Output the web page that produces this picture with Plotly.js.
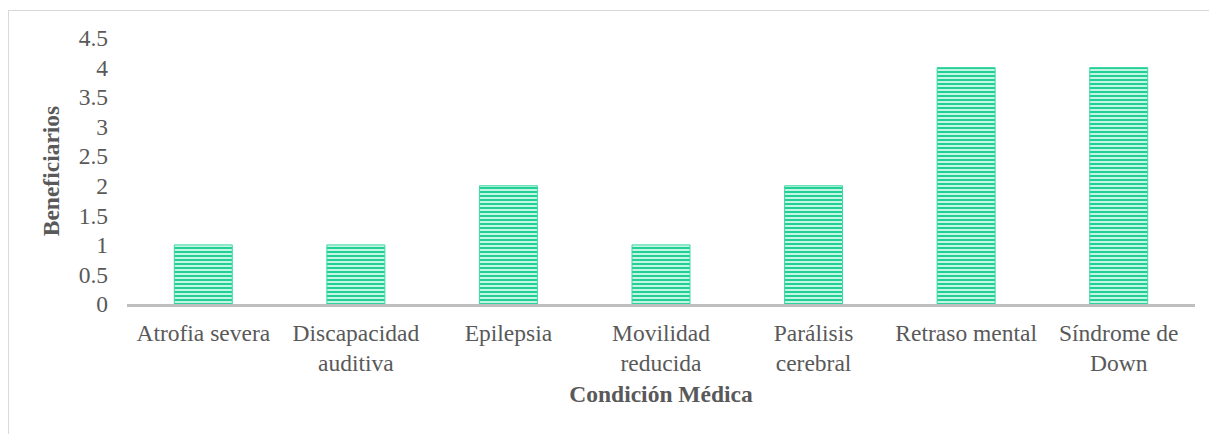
<!DOCTYPE html>
<html><head><meta charset="utf-8">
<script src="https://cdn.plot.ly/plotly-3.0.1.min.js"></script>
<style>
html,body{margin:0;padding:0;background:#fff;}
#wrap{position:relative;width:1209px;height:434px;overflow:hidden;}
#chart{width:1209px;height:434px;}
#frame{position:absolute;left:8px;top:10px;width:1300px;height:600px;border:1.5px solid #d9d9d9;pointer-events:none;}
</style></head>
<body><div id="wrap"><div id="chart"></div><div id="frame"></div></div>
<script>
const categories = ["Atrofia severa","Discapacidad<br>auditiva","Epilepsia","Movilidad<br>reducida","Parálisis<br>cerebral","Retraso mental","Síndrome de<br>Down"];
const beneficiarios = [1,1,2,1,2,4,4];
const yTicks = [0,0.5,1,1.5,2,2.5,3,3.5,4,4.5];
const yTickLabels = ["0","0.5","1","1.5","2","2.5","3","3.5","4","4.5"];

const font = {family:"Liberation Serif, Times New Roman, serif", color:"#595959"};
Plotly.newPlot("chart",[{
  type:"bar", x:categories, y:beneficiarios,
  width:0.38,
  marker:{color:"#b5f3de", line:{color:"#3dd8a4", width:1},
    pattern:{shape:"-", fgcolor:"#22cf95", bgcolor:"#c2f5e4", size:4, solidity:0.5}},
  hoverinfo:"skip"
}],{
  width:1209, height:434,
  margin:{l:127,r:14,t:38,b:130},
  paper_bgcolor:"#fff", plot_bgcolor:"#fff",
  showlegend:false,
  bargap:0.62,
  font:Object.assign({size:24},font),
  xaxis:{showline:true, linecolor:"#bfbfbf", linewidth:2.5, ticks:"", showgrid:false, zeroline:false,
    ticklabelstandoff:6,
    tickfont:Object.assign({size:23.5},font),
    title:{text:"<b>Condición Médica</b>", font:Object.assign({size:23.5},font), standoff:11}},
  yaxis:{range:[0,4.5], tickvals:yTicks, ticktext:yTickLabels, showgrid:false, zeroline:false, showline:false, ticks:"",
    ticklabelstandoff:18,
    tickfont:Object.assign({size:23.5},font),
    title:{text:"<b>Beneficiarios</b>", font:Object.assign({size:23.5},font), standoff:12}}
},{staticPlot:true});
</script></body></html>
